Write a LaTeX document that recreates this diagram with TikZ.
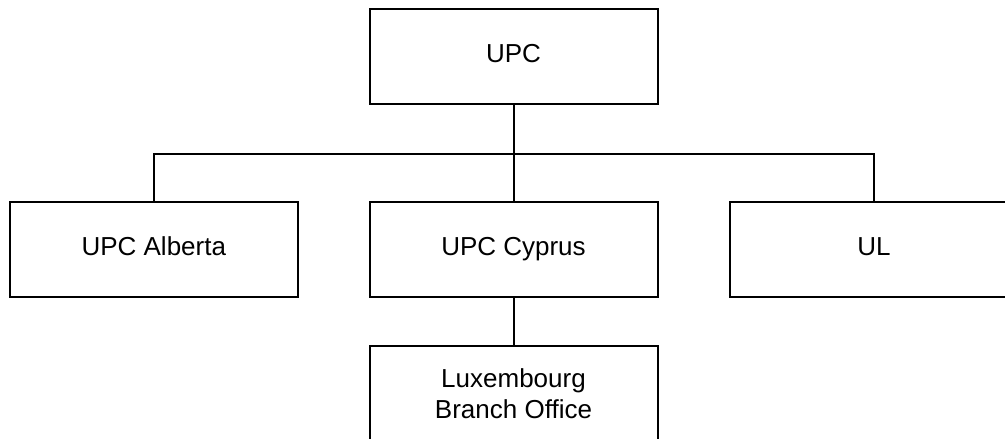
\documentclass[tikz,border=0pt]{standalone}
\usepackage{fontspec}
\setmainfont{Liberation Sans}
\begin{document}
\begin{tikzpicture}[x=1pt,y=-1pt,
  orgbox/.style={draw=black,line width=2pt,minimum width=288pt,minimum height=95pt,
    inner sep=0pt,align=center,font=\fontsize{26}{31}\selectfont},
  oneline/.style={text height=19pt,text depth=7pt},
  conn/.style={draw=black,line width=2pt}]
\useasboundingbox (0,0) rectangle (1005,439);
\clip (0,0) rectangle (1005,439);
\fill[white] (0,0) rectangle (1005,439);
\node[orgbox,oneline] (upc) at (513.5,56.5) {UPC};
\node[orgbox,oneline] (alberta) at (153.8,249.5) {UPC Alberta};
\node[orgbox,oneline] (cyprus) at (513.5,249.5) {UPC Cyprus};
\node[orgbox,oneline] (ul) at (874,249.5) {UL};
\node[orgbox] (lux) at (513.5,393.5) {Luxembourg\\Branch Office};
\coordinate (bus) at (513.5,154);
\draw[conn] (upc.south) -- (cyprus.north);
\draw[conn] (alberta.north) |- (bus) -| (ul.north);
\draw[conn] (cyprus.south) -- (lux.north);
\end{tikzpicture}
\end{document}
